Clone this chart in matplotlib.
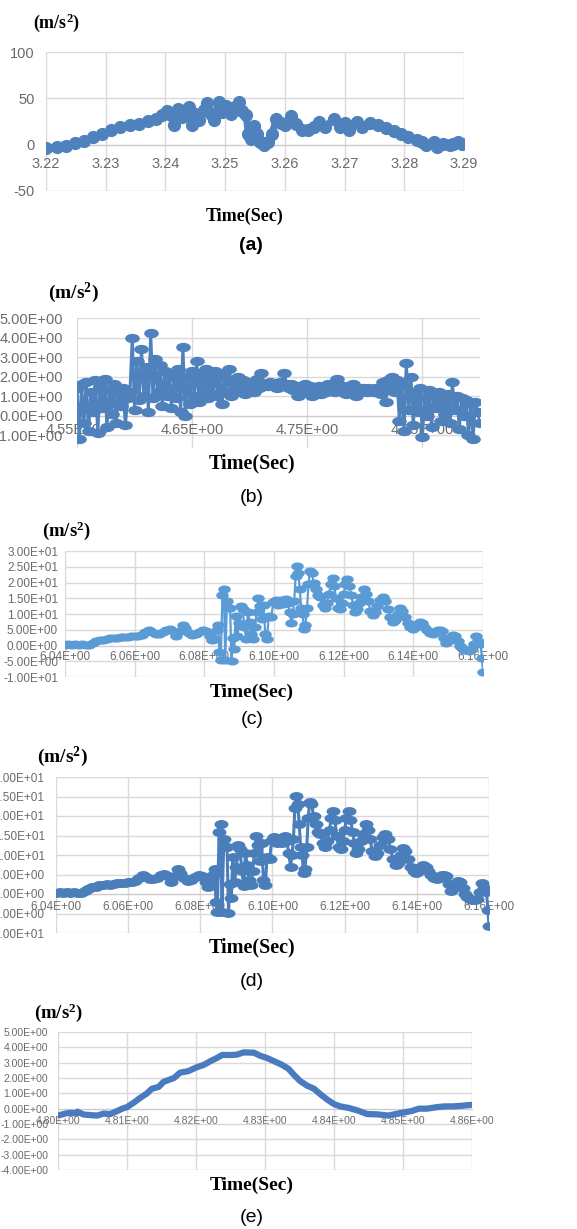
import numpy as np
import matplotlib
matplotlib.use('Agg')
import matplotlib.pyplot as plt
from matplotlib.path import Path

plt.rcParams['font.family'] = ['Liberation Sans', 'DejaVu Sans']
plt.rcParams['mathtext.fontset'] = 'custom'
plt.rcParams['mathtext.bf'] = 'Liberation Serif:bold'
plt.rcParams['mathtext.rm'] = 'Liberation Serif:bold'
plt.rcParams['mathtext.default'] = 'bf'

# ---- data ----
# (a) time [s], acceleration [m/s^2]
pts_a = [(3.2200, -4.0), (3.2218, -2.2), (3.2233, -1.1), (3.2248, 1.5), (3.2263, 4.4),
         (3.2279, 8.0), (3.2294, 11.7), (3.2309, 15.3), (3.2324, 19.0), (3.2340, 21.5),
         (3.2355, 22.6), (3.2370, 25.5), (3.2385, 28.0), (3.2395, 32.5), (3.2403, 36.0),
         (3.2410, 32.5), (3.2415, 21.5), (3.2421, 39.0), (3.2427, 30.0), (3.2434, 37.0),
         (3.2439, 41.0), (3.2445, 21.5), (3.2450, 33.6), (3.2456, 26.3), (3.2464, 37.0),
         (3.2470, 45.0), (3.2476, 33.6), (3.2481, 27.0), (3.2489, 46.4), (3.2495, 35.4),
         (3.2502, 41.6), (3.2510, 33.6), (3.2516, 41.0), (3.2523, 46.4), (3.2528, 36.5),
         (3.2535, 31.8), (3.2539, 11.7), (3.2543, 6.2), (3.2549, 19.7), (3.2554, 11.7),
         (3.2559, 2.6), (3.2565, 0.0), (3.2572, 2.6), (3.2578, 11.0), (3.2586, 28.0),
         (3.2594, 23.4), (3.2601, 20.8), (3.2611, 30.7), (3.2619, 22.6), (3.2629, 16.0),
         (3.2639, 15.3), (3.2649, 19.0), (3.2657, 24.5), (3.2667, 19.0), (3.2682, 28.0),
         (3.2692, 19.0), (3.2700, 23.4), (3.2708, 16.0), (3.2720, 24.5), (3.2730, 19.0),
         (3.2743, 23.4), (3.2756, 20.8), (3.2769, 18.2), (3.2782, 14.6), (3.2794, 11.7),
         (3.2807, 8.8), (3.2822, 5.0), (3.2830, 3.0), (3.2837, -0.7), (3.2849, 2.9),
         (3.2855, -2.5), (3.2865, 1.0), (3.2876, -0.7), (3.2882, 1.0), (3.2890, 2.9),
         (3.2896, 0.4)]

# (b) uniformly sampled, 4.55 s .. 4.90 s
acc_b = [1.4, -1.2, 1.6, -0.4, 1.7, -0.8, 1.2, 0.2, 1.8, -0.9,
         1.5, 0.4, 1.9, -0.6, 1.3, 0.1, 1.6, -0.4, 1.1, 0.5,
         1.4, -0.5, 0.9, 1.2, 4.0, 0.3, 2.8, 0.8, 3.4, 1.0,
         2.5, 0.2, 4.25, 0.9, 2.9, 1.2, 2.6, 0.5, 2.3, 1.0,
         2.2, 0.4, 2.0, 0.9, 2.4, 0.2, 3.5, 0.0, 2.0, 0.6,
         2.3, 1.0, 2.8, 0.7, 2.2, 1.2, 2.4, 0.9, 2.1, 1.1,
         2.3, 1.0, 2.0, 0.6, 2.2, 1.2, 2.4, 1.0, 1.9, 1.2,
         2.0, 1.3, 1.8, 1.1, 1.7, 1.3, 1.6, 1.2, 1.9, 1.4,
         2.2, 1.5, 1.6, 1.5, 1.7, 1.5, 1.6, 1.4, 1.7, 1.5,
         2.2, 1.6, 1.4, 1.6, 1.3, 1.5, 1.0, 1.5, 1.3, 1.6,
         1.2, 1.5, 1.0, 1.4, 1.3, 1.5, 1.1, 1.4, 1.2, 1.6,
         1.3, 1.5, 1.2, 1.9, 1.4, 1.3, 1.5, 1.1, 1.4, 1.3,
         1.6, 1.0, 1.4, 1.2, 1.4, 1.3, 1.2, 1.4, 1.3, 1.2,
         1.4, 1.3, 1.1, 1.7, 0.7, 1.8, 1.3, 2.0, 1.2, 1.8,
         -0.3, 1.5, -0.8, 2.7, 0.3, 2.0, -0.5, 1.2, 0.2, 1.4,
         -1.1, 0.9, 0.0, 1.3, -0.6, 1.1, 0.4, 1.2, -0.3, 0.8,
         0.1, 1.1, -0.4, 1.7, 0.3, 1.0, -0.7, 0.9, 0.0, 0.8,
         -1.0, 0.6, -1.2, 0.7, 0.2, -0.4]
t_b = np.linspace(4.55, 4.90, len(acc_b))

# (c) and (d) show the same record
pts_cd = [(6.0400, 0.3), (6.0410, 0.4), (6.0420, 0.2), (6.0430, 0.5), (6.0440, 0.3),
          (6.0450, 0.6), (6.0460, 0.2), (6.0470, 0.3), (6.0480, 0.8), (6.0490, 1.3),
          (6.0500, 1.8), (6.0510, 1.9), (6.0520, 2.2), (6.0530, 2.3), (6.0540, 2.5),
          (6.0550, 2.4), (6.0560, 2.6), (6.0570, 2.7), (6.0580, 2.8), (6.0590, 2.9),
          (6.0600, 3.0), (6.0610, 3.1), (6.0620, 3.4), (6.0630, 4.2), (6.0640, 4.8),
          (6.0650, 4.4), (6.0660, 3.8), (6.0670, 3.8), (6.0680, 4.2), (6.0690, 5.0),
          (6.0700, 5.2), (6.0710, 4.6), (6.0720, 3.0), (6.0730, 4.5), (6.0738, 6.5),
          (6.0745, 5.5), (6.0755, 4.0), (6.0765, 3.4), (6.0775, 3.6), (6.0785, 4.3),
          (6.0795, 4.8), (6.0805, 4.5), (6.0815, 3.0), (6.0822, 1.8), (6.0830, 2.2),
          (6.0835, 5.0), (6.0840, 6.5), (6.0843, -2.0), (6.0847, -4.5), (6.0852, 16.0),
          (6.0856, 18.0), (6.0860, -4.6), (6.0865, 14.0), (6.0870, 12.0), (6.0874, 12.0),
          (6.0878, -4.8), (6.0882, 2.5), (6.0886, -1.0), (6.0890, 9.5), (6.0895, 3.0),
          (6.0900, 7.0), (6.0905, 12.5), (6.0910, 11.5), (6.0915, 6.0), (6.0920, 2.0),
          (6.0925, 10.5), (6.0930, 7.5), (6.0935, 3.5), (6.0940, 2.2), (6.0945, 6.0),
          (6.0950, 10.5), (6.0955, 15.0), (6.0960, 12.5), (6.0965, 8.5), (6.0970, 13.0),
          (6.0975, 3.5), (6.0980, 2.2), (6.0985, 9.5), (6.0992, 9.0), (6.0998, 13.8),
          (6.1005, 14.5), (6.1012, 13.0), (6.1020, 14.3), (6.1027, 13.2), (6.1034, 14.8),
          (6.1040, 13.5), (6.1045, 10.5), (6.1050, 7.0), (6.1054, 10.0), (6.1058, 14.0),
          (6.1062, 22.0), (6.1066, 25.2), (6.1070, 23.0), (6.1074, 18.0), (6.1078, 12.0),
          (6.1082, 10.0), (6.1086, 5.3), (6.1090, 6.5), (6.1095, 12.0), (6.1099, 19.5),
          (6.1103, 23.7), (6.1108, 23.0), (6.1114, 20.0), (6.1120, 18.0), (6.1126, 16.0),
          (6.1132, 15.5), (6.1140, 13.0), (6.1146, 12.0), (6.1152, 13.5), (6.1158, 16.5),
          (6.1163, 19.5), (6.1168, 21.3), (6.1173, 19.0), (6.1178, 15.0), (6.1183, 12.0),
          (6.1189, 11.5), (6.1195, 13.5), (6.1200, 16.5), (6.1205, 19.5), (6.1211, 21.2),
          (6.1216, 19.0), (6.1222, 16.0), (6.1227, 13.0), (6.1232, 10.5), (6.1238, 11.5),
          (6.1244, 13.5), (6.1250, 15.5), (6.1258, 18.0), (6.1264, 16.5), (6.1270, 14.0),
          (6.1277, 11.0), (6.1284, 9.7), (6.1290, 10.5), (6.1297, 12.5), (6.1305, 14.5),
          (6.1313, 15.5), (6.1320, 14.0), (6.1327, 11.5), (6.1334, 9.0), (6.1342, 7.5),
          (6.1348, 8.0), (6.1355, 10.0), (6.1361, 11.8), (6.1368, 11.0), (6.1376, 9.0),
          (6.1384, 7.0), (6.1391, 6.0), (6.1399, 5.3), (6.1406, 5.8), (6.1412, 6.8),
          (6.1418, 7.5), (6.1425, 7.0), (6.1432, 6.0), (6.1440, 4.8), (6.1448, 4.0),
          (6.1456, 3.8), (6.1464, 4.2), (6.1470, 4.8), (6.1476, 5.0), (6.1482, 4.5),
          (6.1488, 2.5), (6.1495, 0.8), (6.1500, 1.5), (6.1507, 2.5), (6.1514, 3.4),
          (6.1520, 3.0), (6.1527, 1.5), (6.1534, 0.0), (6.1540, -0.8), (6.1546, -1.3),
          (6.1552, -1.5), (6.1560, -1.6), (6.1568, -1.2), (6.1575, 0.5), (6.1581, 2.9),
          (6.1587, 1.5), (6.1593, 0.5), (6.1597, -4.0), (6.1600, -8.3)]

# (e)
pts_e = [(4.8000, -0.45), (4.8008, -0.35), (4.8013, -0.30), (4.8020, -0.27), (4.8026, -0.32),
         (4.8028, -0.20), (4.8037, -0.38), (4.8047, -0.42), (4.8057, -0.45), (4.8066, -0.32),
         (4.8076, -0.35), (4.8086, -0.15), (4.8093, 0.00), (4.8100, 0.10), (4.8110, 0.40),
         (4.8119, 0.70), (4.8129, 1.00), (4.8136, 1.30), (4.8146, 1.42), (4.8153, 1.75),
         (4.8168, 2.00), (4.8177, 2.35), (4.8189, 2.45), (4.8201, 2.70), (4.8211, 2.85),
         (4.8221, 3.10), (4.8230, 3.30), (4.8238, 3.50), (4.8250, 3.50), (4.8259, 3.52),
         (4.8269, 3.67), (4.8284, 3.65), (4.8293, 3.45), (4.8303, 3.30), (4.8313, 3.10),
         (4.8325, 2.85), (4.8334, 2.60), (4.8342, 2.20), (4.8351, 1.80), (4.8361, 1.50),
         (4.8371, 1.30), (4.8380, 0.95), (4.8390, 0.60), (4.8400, 0.30), (4.8409, 0.15),
         (4.8421, 0.05), (4.8433, -0.10), (4.8448, -0.35), (4.8462, -0.37), (4.8479, -0.45),
         (4.8489, -0.35), (4.8501, -0.25), (4.8513, -0.15), (4.8523, 0.00), (4.8535, 0.00),
         (4.8549, 0.10), (4.8561, 0.15), (4.8573, 0.15), (4.8588, 0.20), (4.8600, 0.25)]

t_a, acc_a = np.array(pts_a).T
t_cd, acc_cd = np.array(pts_cd).T
t_e, acc_e = np.array(pts_e).T

xt_a = [3.22, 3.23, 3.24, 3.25, 3.26, 3.27, 3.28, 3.29]
yt_a = [-50, 0, 50, 100]
xt_b = [4.55, 4.65, 4.75, 4.85]
yt_b = [-1, 0, 1, 2, 3, 4, 5]
xt_cd = [6.04, 6.06, 6.08, 6.10, 6.12, 6.14, 6.16]
yt_cd = [-10, -5, 0, 5, 10, 15, 20, 25, 30]
xt_e = [4.80, 4.81, 4.82, 4.83, 4.84, 4.85, 4.86]
yt_e = [-4, -3, -2, -1, 0, 1, 2, 3, 4, 5]

# ---- layout ----
W, H = 577, 1229
fig = plt.figure(figsize=(W / 100, H / 100), dpi=100)
GRID = '#d9d9d9'
TICK = '#6b6b6b'

circ = Path.unit_circle()
oval = Path(circ.vertices * [1.0, 0.6], circ.codes)


def sci(v):
    return '%.2E' % v


def excel_axes(box, xlim, ylim, xticks, yticks, xlabels, ylabels, fs, xpad, ypad):
    l, t, r, b = box
    ax = fig.add_axes([l / W, 1 - b / H, (r - l) / W, (b - t) / H])
    ax.set_xlim(xlim)
    ax.set_ylim(ylim)
    ax.set_xticks(xticks)
    ax.set_xticklabels(xlabels)
    ax.set_yticks(yticks)
    ax.set_yticklabels(ylabels)
    ax.grid(True, color=GRID, lw=1)
    ax.set_axisbelow(True)
    for side in ['top', 'right', 'left']:
        ax.spines[side].set_visible(False)
    ax.spines['bottom'].set_position(('data', 0))
    ax.spines['bottom'].set_color('#cccccc')
    ax.tick_params(length=0, labelsize=fs, labelcolor=TICK)
    ax.tick_params(axis='x', pad=xpad)
    ax.tick_params(axis='y', pad=ypad)
    return ax


def label(x, y, s, **kw):
    fig.text(x / W, 1 - y / H, s, ha='center', va='center', **kw)


# (a)
ax = excel_axes((46, 52, 464, 191), (3.22, 3.29), (-50, 100), xt_a, yt_a,
                ['%.2f' % v for v in xt_a], [str(v) for v in yt_a], 10.5, 9, 8)
ax.plot(t_a, acc_a, color='#4f81bd', lw=5, marker='o', ms=8.5, zorder=3)

# (b)
ax = excel_axes((77, 318, 480, 448), (4.55, 4.90), (-1.66, 5), xt_b, yt_b,
                [sci(v) for v in xt_b], [sci(v) for v in yt_b], 10.5, 5, 10)
ax.plot(t_b, acc_b, color='#4f81bd', lw=2.2, marker=oval, ms=9.5, zorder=3)

# (c)
ax = excel_axes((65, 551, 483, 677), (6.04, 6.16), (-10, 30), xt_cd, yt_cd,
                [sci(v) for v in xt_cd], [sci(v) for v in yt_cd], 8.5, 4, 5)
ax.plot(t_cd, acc_cd, color='#5b9bd5', lw=1.6, marker=oval, ms=8, zorder=3)

# (d)
ax = excel_axes((56, 777, 489, 933), (6.04, 6.16), (-10, 30), xt_cd, yt_cd,
                [sci(v) for v in xt_cd], [sci(v) for v in yt_cd], 8.5, 5, 8)
ax.plot(t_cd, acc_cd, color='#4a7ebb', lw=2.2, marker=oval, ms=9, zorder=3)

# (e)
ax = excel_axes((58, 1032, 472, 1170), (4.80, 4.86), (-4, 5), xt_e, yt_e,
                [sci(v) for v in xt_e], [sci(v) for v in yt_e], 7.5, 5, 7)
ax.plot(t_e, acc_e, color='#4a7abf', lw=4.5, solid_capstyle='round', zorder=3)

# titles and captions
unit = r'$(m/s^2)$'
for x, y, fs in [(57, 23, 13), (73, 293, 14), (66, 531, 13.5), (62, 757, 14), (58, 1013, 13.5)]:
    label(x, y, unit, fontsize=fs)
serif = ['Liberation Serif', 'DejaVu Serif']
for y, fs in [(216, 13), (463, 14.5), (692, 14), (947, 14.5), (1185, 14)]:
    label(245 if y == 216 else 252, y, 'Time(Sec)', fontsize=fs, fontweight='bold', family=serif)
label(251, 246, '(a)', fontsize=14, fontweight='bold')
label(252, 498, '(b)', fontsize=14)
label(252, 719, '(c)', fontsize=14)
label(252, 981, '(d)', fontsize=14)
label(252, 1217, '(e)', fontsize=14)

fig.savefig('out.png', dpi=100, facecolor='white')
